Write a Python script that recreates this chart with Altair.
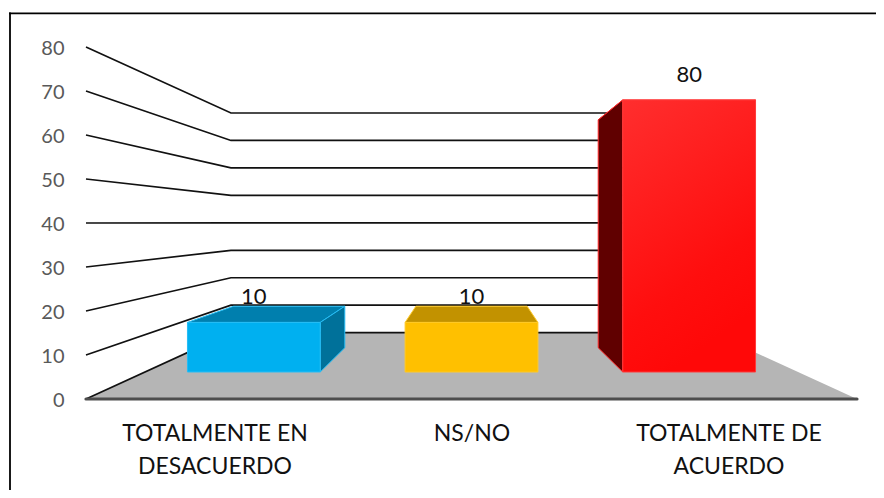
import json
import altair as alt
import pandas as pd

# ---- data ----
categories = [["TOTALMENTE EN", "DESACUERDO"], ["NS/NO"], ["TOTALMENTE DE", "ACUERDO"]]
bar_heights = [13.3, 13.3, 73.0]
bar_labels = ["10", "10", "80"]
axis_ticks = [0, 10, 20, 30, 40, 50, 60, 70, 80]

front_colors = ["#00b0f0", "#ffc000", "#ff1414"]
top_colors = ["#007fae", "#c29200", "#c00000"]
side_colors = ["#00719a", "#a87e00", "#600000"]
edge_colors = ["#25bdf5", "#ffc926", "#ff2a2a"]

# ---- 3D projection of the Excel-style chart ----
K = 0.6026          # perspective strength
CX, V0 = 1.5, 40.1  # vanishing point (category units, value units)
D_FRONT, D_BACK = 0.30, 0.68  # depth of the bars
HALF = 0.305        # half bar width, category units


def px(x, depth):
    return CX + (x - CX) / (1 + K * depth)


def py(v, depth):
    return V0 + (v - V0) / (1 + K * depth)


label_expr = " : ".join(
    f"datum.value == {i + 0.5} ? {json.dumps(c)}" for i, c in enumerate(categories[:-1])
) + " : " + json.dumps(categories[-1])

x_axis = alt.Axis(
    values=[0.5, 1.5, 2.5], labelExpr=label_expr, grid=False, domain=False, ticks=False,
    labelFont="Lato", labelFontSize=23, labelColor="#111111", labelPadding=23,
    labelLineHeight=33, labelOverlap=False, labelFlush=False, labelAngle=0, labelBaseline="top",
    labelLimit=400, title=None,
)
y_axis = alt.Axis(
    values=axis_ticks, grid=False, domain=False, ticks=False,
    labelFont="Lato", labelFontSize=20, labelColor="#595959", labelPadding=22,
    labelOverlap=False, labelFlush=False, labelOffset=1.5, title=None,
)
x_scale = alt.Scale(domain=[0, 3], nice=False, zero=False)
y_scale = alt.Scale(domain=[0, 80], nice=False, zero=False)
X = lambda f: alt.X(f, type="quantitative", scale=x_scale, axis=x_axis)
Y = lambda f: alt.Y(f, type="quantitative", scale=y_scale, axis=y_axis)

# floor
floor = pd.DataFrame(
    [
        {"y": py(0, 1), "x": px(0, 1), "x2": px(3, 1)},
        {"y": py(0, 0), "x": px(0, 0), "x2": px(3, 0)},
    ]
)
floor_layer = alt.Chart(floor).mark_area(orient="horizontal", color="#b5b5b5").encode(
    y=Y("y"), x=X("x"), x2="x2"
)

# wall gridlines
grid_rows = []
for t in axis_ticks:
    grid_rows += [
        {"t": t, "o": 0, "x": px(0, 0), "y": py(t, 0)},
        {"t": t, "o": 1, "x": px(0, 1), "y": py(t, 1)},
        {"t": t, "o": 2, "x": px(3, 1), "y": py(t, 1)},
    ]
grid_layer = alt.Chart(pd.DataFrame(grid_rows)).mark_line(color="#111111", strokeWidth=1.7).encode(
    x=X("x"), y=Y("y"), detail="t:N", order="o:Q"
)

# floor front edge
edge_layer = alt.Chart(pd.DataFrame({"x": [0], "x2": [3], "y": [0]})).mark_rule(
    color="#4d4d4d", strokeWidth=3.2, strokeCap="round"
).encode(x=X("x"), x2="x2", y=Y("y"))

# bar faces
tops, sides, fronts = [], [], []
for i, h in enumerate(bar_heights):
    c = i + 0.5
    l, r = c - HALF, c + HALF
    for o, d in enumerate([D_BACK, D_FRONT]):
        tops.append({"bar": i, "o": o, "y": py(h, d), "x": px(l, d), "x2": px(r, d),
                     "fill": top_colors[i], "edge": edge_colors[i]})
    side_x = r if c < CX else l
    if c != CX:
        for o, d in enumerate([D_FRONT, D_BACK]):
            sides.append({"bar": i, "x": px(side_x, d), "y": py(h, d), "y2": py(0, d),
                          "fill": side_colors[i], "edge": edge_colors[i]})
    fronts.append({"bar": i, "x": px(l, D_FRONT), "x2": px(r, D_FRONT),
                   "y": py(h, D_FRONT), "y2": py(0, D_FRONT), "cx": px(c, D_FRONT),
                   "label": bar_labels[i], "fill": front_colors[i], "edge": edge_colors[i]})

top_layer = alt.Chart(pd.DataFrame(tops)).mark_area(orient="horizontal", strokeWidth=1).encode(
    y=Y("y"), x=X("x"), x2="x2", detail="bar:N",
    fill=alt.Fill("fill:N", scale=None), stroke=alt.Stroke("edge:N", scale=None),
)
side_layer = alt.Chart(pd.DataFrame(sides)).mark_area(strokeWidth=1).encode(
    x=X("x"), y=Y("y"), y2="y2", detail="bar:N",
    fill=alt.Fill("fill:N", scale=None), stroke=alt.Stroke("edge:N", scale=None),
)
front_df = pd.DataFrame(fronts)
front_layer = alt.Chart(front_df[front_df.bar < 2]).mark_rect(strokeWidth=1).encode(
    x=X("x"), x2="x2", y=Y("y"), y2="y2",
    fill=alt.Fill("fill:N", scale=None), stroke=alt.Stroke("edge:N", scale=None),
)
red_layer = alt.Chart(front_df[front_df.bar == 2]).mark_rect(
    strokeWidth=1,
    stroke="#ff3a3a",
    fill=alt.Gradient(
        gradient="linear", x1=0, y1=0, x2=0.35, y2=1,
        stops=[alt.GradientStop(offset=0, color="#ff2e2e"),
               alt.GradientStop(offset=0.75, color="#ff0e0e"),
               alt.GradientStop(offset=1, color="#ff0808")],
    ),
).encode(x=X("x"), x2="x2", y=Y("y"), y2="y2")

label_layer = alt.Chart(front_df).mark_text(
    font="Lato", fontSize=22, color="#111111", baseline="bottom", dy=-13
).encode(x=X("cx"), y=Y("y"), text="label:N")

# chart frame (page decoration, not data)
frame_left = alt.Chart(pd.DataFrame({"a": [0]})).mark_rule(color="#000000", strokeWidth=1.8).encode(
    x=alt.value(-76), y=alt.value(-34.6), y2=alt.value(443)
)
frame_top = alt.Chart(pd.DataFrame({"a": [0]})).mark_rule(color="#000000", strokeWidth=1.8).encode(
    x=alt.value(-77), x2=alt.value(790), y=alt.value(-33.7)
)

chart = alt.layer(
    floor_layer, grid_layer, edge_layer, top_layer, side_layer,
    front_layer, red_layer, label_layer, frame_left, frame_top,
).properties(
    width=771, height=352,
    padding={"left": 78, "top": 39, "right": 19, "bottom": 91},
    autosize=alt.AutoSizeParams(type="none"),
    background="white",
).configure_view(stroke=None)

chart.save("out.html", embed_options={"renderer": "svg", "actions": False})
